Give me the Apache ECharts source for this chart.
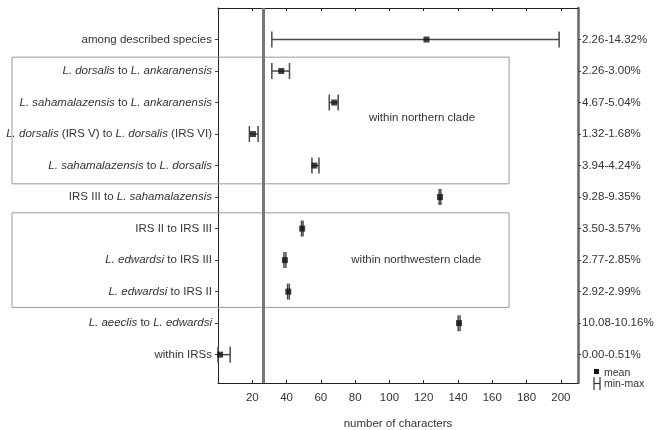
<!DOCTYPE html>
<html><head><meta charset="utf-8">
<script src="https://cdn.jsdelivr.net/npm/echarts@6/dist/echarts.min.js"></script>
<style>html,body{margin:0;padding:0;background:#fff}#c{width:666px;height:430px}</style>
</head><body><div id="c"></div>
<script>
// ---- data ----
const categories = [
  'among described species',
  '{i|L. dorsalis} to {i|L. ankaranensis}',
  '{i|L. sahamalazensis} to {i|L. ankaranensis}',
  '{i|L. dorsalis} (IRS V) to {i|L. dorsalis} (IRS VI)',
  '{i|L. sahamalazensis} to {i|L. dorsalis}',
  'IRS III to {i|L. sahamalazensis}',
  'IRS II to IRS III',
  '{i|L. edwardsi} to IRS III',
  '{i|L. edwardsi} to IRS II',
  '{i|L. aeeclis} to {i|L. edwardsi}',
  'within IRSs'
];
const rangeLabels = ['2.26-14.32%','2.26-3.00%','4.67-5.04%','1.32-1.68%','3.94-4.24%','9.28-9.35%','3.50-3.57%','2.77-2.85%','2.92-2.99%','10.08-10.16%','0.00-0.51%'];
const minVals  = [31.4, 31.4, 64.9, 18.3, 54.8, 129.0, 48.7, 38.5, 40.6, 140.1, 0.0];
const maxVals  = [199.0, 41.7, 70.1, 23.4, 58.9, 130.0, 49.6, 39.6, 41.6, 141.2, 7.1];
const meanVals = [121.6, 36.9, 67.8, 20.4, 56.2, 129.5, 49.1, 39.0, 41.0, 140.6, 1.2];
const xTicks = [20, 40, 60, 80, 100, 120, 140, 160, 180, 200];
const thresholdValue = 26.6;
const cladeGroups = [
  {label: 'within northern clade', firstRow: 2, lastRow: 5, textX: 119, textRow: 3.5},
  {label: 'within northwestern clade', firstRow: 7, lastRow: 9, textX: 115.6, textRow: 8}
];
const xName = 'number of characters';
const legendMean = 'mean';
const legendRange = 'min-max';

// ---- chart ----
const FONT = 'Liberation Sans';
const TXT = '#333';
const rows = categories.map((_, i) => i + 1);
const boxPads = [[0.44, 0.58], [0.5, 0.5]];
const chart = echarts.init(document.getElementById('c'), null, {renderer: 'canvas'});

const rangeData = rows.map((r, i) => [minVals[i], maxVals[i], r]);
const meanData = rows.map((r, i) => [meanVals[i], r]);

const option = {
  animation: false,
  backgroundColor: '#fff',
  textStyle: {fontFamily: FONT},
  grid: {left: 218, right: 88, top: 8, bottom: 47, containLabel: false, outerBoundsMode: 'none'},
  xAxis: [{
    type: 'value', min: 0, max: 210, position: 'bottom',
    name: xName, nameLocation: 'middle', nameGap: 35,
    nameTextStyle: {fontFamily: FONT, fontSize: 11.5, color: TXT},
    axisLine: {show: true, onZero: false, lineStyle: {color: '#222', width: 1}},
    axisTick: {show: true, inside: true, length: 3, customValues: xTicks, lineStyle: {color: '#222'}},
    axisLabel: {customValues: xTicks, fontFamily: FONT, fontSize: 11.5, color: TXT, margin: 9},
    splitLine: {show: false}
  }, {
    type: 'value', min: 0, max: 210, position: 'top',
    axisLine: {show: true, onZero: false, lineStyle: {color: '#222', width: 1}},
    axisTick: {show: true, inside: true, length: 3, customValues: xTicks, lineStyle: {color: '#222'}},
    axisLabel: {show: false},
    splitLine: {show: false}
  }],
  yAxis: [{
    type: 'value', min: 0, max: 11.9, inverse: true, position: 'left',
    axisLine: {show: true, onZero: false, lineStyle: {color: '#222', width: 1}},
    axisTick: {show: true, length: 3, customValues: rows, lineStyle: {color: '#444'}},
    axisLabel: {
      customValues: rows, margin: 6, fontFamily: FONT, fontSize: 11.5, color: TXT,
      formatter: v => categories[v - 1] || '',
      rich: {i: {fontStyle: 'italic', fontFamily: FONT, fontSize: 11.5, color: TXT}}
    },
    splitLine: {show: false}
  }, {
    type: 'value', min: 0, max: 11.9, inverse: true, position: 'right',
    axisLine: {show: true, onZero: false, lineStyle: {color: '#666', width: 2.5}},
    axisTick: {show: true, length: 3, customValues: rows, lineStyle: {color: '#444'}},
    axisLabel: {
      customValues: rows, margin: 4, fontFamily: FONT, fontSize: 11.5, color: TXT,
      formatter: v => rangeLabels[v - 1] || ''
    },
    splitLine: {show: false}
  }],
  series: [{
    type: 'custom',
    name: 'range',
    xAxisIndex: 0, yAxisIndex: 0,
    data: rangeData,
    encode: {x: [0, 1], y: 2},
    renderItem: (params, api) => {
      const lo = api.coord([api.value(0), api.value(2)]);
      const hi = api.coord([api.value(1), api.value(2)]);
      const h = 8;
      const style = {stroke: '#4a4a4a', lineWidth: 1.5};
      return {type: 'group', children: [
        {type: 'line', shape: {x1: lo[0], y1: lo[1], x2: hi[0], y2: hi[1]}, style},
        {type: 'line', shape: {x1: lo[0], y1: lo[1] - h, x2: lo[0], y2: lo[1] + h}, style},
        {type: 'line', shape: {x1: hi[0], y1: hi[1] - h, x2: hi[0], y2: hi[1] + h}, style}
      ]};
    },
    markLine: {
      silent: true, symbol: 'none', label: {show: false},
      lineStyle: {color: '#777', width: 3, type: 'solid'},
      data: [{xAxis: thresholdValue}]
    },
    z: 3
  }, {
    type: 'scatter', name: 'mean', xAxisIndex: 0, yAxisIndex: 0,
    data: meanData, symbol: 'rect', symbolSize: 6,
    itemStyle: {color: '#111'}, z: 4
  }]
};
chart.setOption(option);

// annotations: clade boxes, labels, legend
const graphics = [];
const boxLeft = 12;
const toPx = v => chart.convertToPixel({xAxisIndex: 0, yAxisIndex: 0}, v);
cladeGroups.forEach((g, k) => {
  const top = toPx([0, g.firstRow - boxPads[k][0]])[1];
  const bottom = toPx([0, g.lastRow + boxPads[k][1]])[1];
  const right = toPx([169.8, 0])[0];
  graphics.push({type: 'rect', shape: {x: boxLeft, y: top, width: right - boxLeft, height: bottom - top},
    style: {fill: 'none', stroke: '#999', lineWidth: 1}, silent: true, z: 1});
  const tp = toPx([g.textX, g.textRow]);
  graphics.push({type: 'text', x: tp[0], y: tp[1],
    style: {text: g.label, fontFamily: FONT, fontSize: 11.5, fill: TXT, align: 'center', verticalAlign: 'middle'}, z: 5});
});
// legend
graphics.push({type: 'rect', shape: {x: 594, y: 369, width: 5, height: 5}, style: {fill: '#111'}});
graphics.push({type: 'text', x: 604, y: 373, style: {text: legendMean, fontFamily: FONT, fontSize: 10.5, fill: TXT, verticalAlign: 'middle'}});
graphics.push({type: 'line', shape: {x1: 594, y1: 377, x2: 594, y2: 390}, style: {stroke: '#333', lineWidth: 1.2}});
graphics.push({type: 'line', shape: {x1: 594, y1: 383.5, x2: 600, y2: 383.5}, style: {stroke: '#333', lineWidth: 1.2}});
graphics.push({type: 'line', shape: {x1: 600, y1: 377, x2: 600, y2: 390}, style: {stroke: '#333', lineWidth: 1.2}});
graphics.push({type: 'text', x: 604, y: 384, style: {text: legendRange, fontFamily: FONT, fontSize: 10.5, fill: TXT, verticalAlign: 'middle'}});
chart.setOption({graphic: {elements: graphics}});
</script></body></html>
